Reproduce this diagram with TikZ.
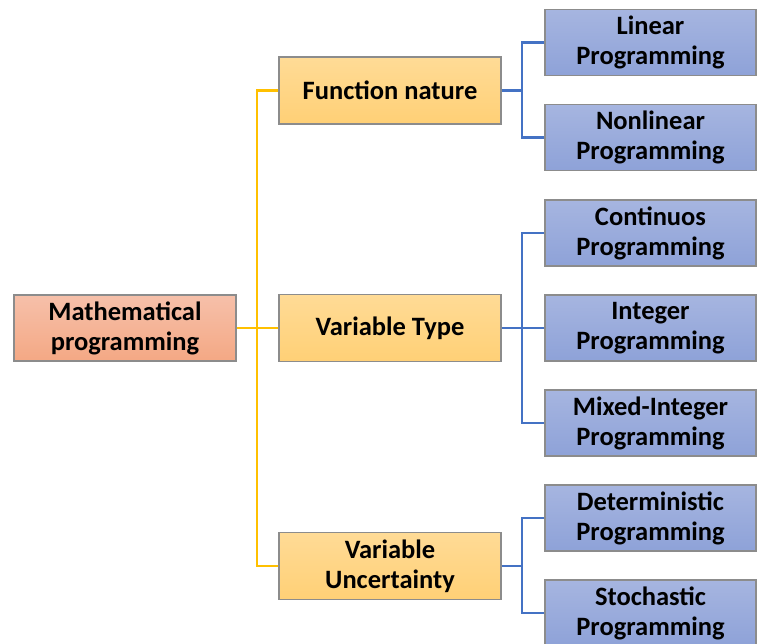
\documentclass[tikz,border=0pt]{standalone}
\usepackage{fontspec}
\setmainfont{Carlito}
\usepackage{tikz}
\usetikzlibrary{calc,positioning}
\definecolor{rootfilltop}{RGB}{246,192,170}
\definecolor{rootfillbot}{RGB}{244,168,132}
\definecolor{midfilltop}{RGB}{255,219,150}
\definecolor{midfillbot}{RGB}{255,208,118}
\definecolor{leaffilltop}{RGB}{166,181,224}
\definecolor{leaffillbot}{RGB}{142,162,216}
\definecolor{boxedge}{RGB}{140,140,140}
\definecolor{yellowline}{RGB}{255,192,0}
\definecolor{blueline}{RGB}{68,114,196}
\tikzset{
  basebox/.style={draw=boxedge,line width=1.2pt,align=center,inner sep=0pt,
    font=\fontsize{26.5}{30}\selectfont\bfseries},
  rootbox/.style={basebox,minimum width=222,minimum height=66,
    top color=rootfilltop,bottom color=rootfillbot},
  midbox/.style={basebox,minimum width=222,minimum height=67,
    top color=midfilltop,bottom color=midfillbot},
  leafbox/.style={basebox,minimum width=211,minimum height=66,
    top color=leaffilltop,bottom color=leaffillbot},
  yline/.style={draw=yellowline,line width=2.5pt},
  bline/.style={draw=blueline,line width=2.5pt}
}
% leaf box hung on a blue junction: #1 name, #2 y, #3 text, #4 junction
\newcommand{\leafrow}[4]{%
  \node[leafbox] (#1) at (650.5,-#2) {#3};%
  \draw[bline] (#1.west) -| (#4);%
}

\begin{document}
\begin{tikzpicture}[x=1pt,y=1pt]
  \useasboundingbox (0,0) rectangle (757,-644);
  % main boxes
  \node[rootbox] (math) at (125,-328) {Mathematical\\programming};
  \node[midbox] (func) at (390,-90.5) {Function nature};
  \node[midbox] (vtype) at (390,-328) {Variable Type};
  \node[midbox] (vunc) at (390,-566) {Variable\\Uncertainty};
  % yellow tree
  \coordinate (yj) at (257,-328);
  \draw[yline] (math.east) -- (yj);
  \draw[yline] (func.west) -| (yj);
  \draw[yline] (vunc.west) -| (yj);
  \draw[yline] (vtype.west) -- (yj);
  % blue junctions
  \coordinate (bfunc) at (522,-90.5);
  \coordinate (btype) at (522,-328);
  \coordinate (bunc) at (522,-566);
  \foreach \m/\j in {func/bfunc,vtype/btype,vunc/bunc}
    \draw[bline] (\m.east) -- (\j);
  % leaves
  \leafrow{lin}{42.5}{Linear\\Programming}{bfunc}
  \leafrow{nonlin}{137.5}{Nonlinear\\Programming}{bfunc}
  \leafrow{cont}{233}{Continuos\\Programming}{btype}
  \leafrow{intg}{328}{Integer\\Programming}{btype}
  \leafrow{mixed}{423}{Mixed-Integer\\Programming}{btype}
  \leafrow{determ}{518}{Deterministic\\Programming}{bunc}
  \leafrow{stoch}{613}{Stochastic\\Programming}{bunc}
\end{tikzpicture}
\end{document}
